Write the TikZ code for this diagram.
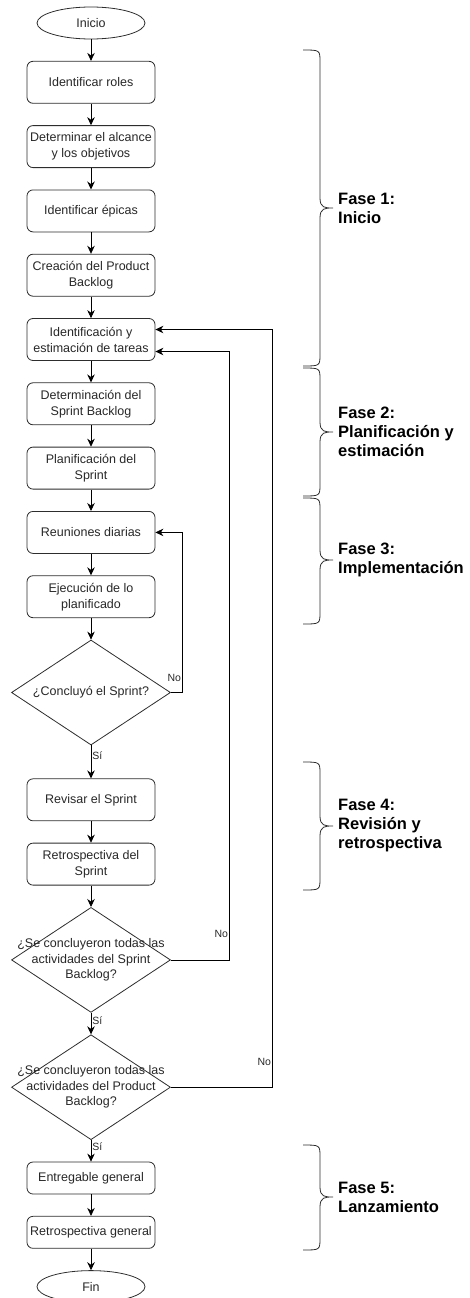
\documentclass[tikz,border=0pt]{standalone}
\usepackage{fontspec}
\setmainfont{Liberation Sans}
\usepackage{tikz}
\usetikzlibrary{shapes.geometric, arrows.meta, positioning, calc}
\definecolor{grisBorde}{RGB}{45,45,45}
\definecolor{grisTexto}{RGB}{40,40,40}
\tikzset{
  fd/term/.style={ellipse, draw=grisBorde, fill=white,
    minimum width=108pt, minimum height=32pt, inner sep=0pt,
    font=\fontsize{12.5}{16}\selectfont\color{grisTexto}, line width=0.8pt},
  fd/proc/.style={rectangle, rounded corners=6pt, draw=grisBorde, fill=white,
    minimum width=128pt, minimum height=42pt, inner sep=1pt,
    font=\fontsize{12.5}{16}\selectfont\color{grisTexto}, align=center,
    line width=0.8pt},
  fd/procb/.style={fd/proc, minimum height=32pt},
  fd/dec/.style={diamond, draw=grisBorde, fill=white,
    minimum width=159pt, minimum height=105pt, inner sep=0pt,
    line width=0.8pt},
  fd/dectxt/.style={align=center, inner sep=0pt,
    font=\fontsize{12.5}{15.5}\selectfont\color{grisTexto}},
  fd/arr/.style={-{Stealth[length=8pt,width=7.5pt]}, line width=0.8pt,
    draw=black},
  fd/lbl/.style={font=\fontsize{10.5}{12}\selectfont\color{grisTexto},
    inner sep=1pt},
  fd/llave/.style={draw=grisBorde, line width=0.8pt},
  fd/fase/.style={anchor=west, align=left, inner sep=0pt,
    font=\fontsize{16.5}{19}\selectfont\bfseries}
}

\begin{document}
\begin{tikzpicture}[x=1pt, y=-1pt, node distance=21.5pt]
  \useasboundingbox (0,0) rectangle (469,1298);

  \node[fd/term] (ini) at (91,23) {Inicio};
  \node[fd/proc, below=of ini] (r1) {Identificar roles};
  \node[fd/proc, below=of r1] (r2) {Determinar el alcance\\y los objetivos};
  \node[fd/proc, below=of r2] (r3) {Identificar épicas};
  \node[fd/proc, below=of r3] (r4) {Creación del Product\\Backlog};
  \node[fd/proc, below=of r4] (r5) {Identificación y\\estimación de tareas};
  \node[fd/proc, below=of r5] (r6) {Determinación del\\Sprint Backlog};
  \node[fd/proc, below=of r6] (r7) {Planificación del\\Sprint};
  \node[fd/proc, below=of r7] (r8) {Reuniones diarias};
  \node[fd/proc, below=of r8] (r9) {Ejecución de lo\\planificado};
  \node[fd/dec, below=of r9,
        label={[fd/dectxt]center:¿Concluyó el Sprint?}] (d1) {};
  \node[fd/proc, below=33pt of d1] (r10) {Revisar el Sprint};
  \node[fd/proc, below=of r10] (r11) {Retrospectiva del\\Sprint};
  \node[fd/dec, below=of r11,
        label={[fd/dectxt]center:{¿Se concluyeron todas las\\actividades del Sprint\\Backlog?}}] (d2) {};
  \node[fd/dec, below=of d2,
        label={[fd/dectxt]center:{¿Se concluyeron todas las\\actividades del Product\\Backlog?}}] (d3) {};
  \node[fd/procb, below=of d3] (r12) {Entregable general};
  \node[fd/procb, below=of r12] (r13) {Retrospectiva general};
  \node[fd/term, below=of r13] (fin) {Fin};

  \draw[fd/arr] (ini) -- (r1);
  \draw[fd/arr] (r1) -- (r2);
  \draw[fd/arr] (r2) -- (r3);
  \draw[fd/arr] (r3) -- (r4);
  \draw[fd/arr] (r4) -- (r5);
  \draw[fd/arr] (r5) -- (r6);
  \draw[fd/arr] (r6) -- (r7);
  \draw[fd/arr] (r7) -- (r8);
  \draw[fd/arr] (r8) -- (r9);
  \draw[fd/arr] (r9) -- (d1);
  \draw[fd/arr] (d1.south) -- node[fd/lbl, right, pos=0.3]{Sí} (r10.north);
  \draw[fd/arr] (d1.east) -| node[fd/lbl, left, pos=0.547]{No}
        ($(r8.east)+(27,0)$) -- (r8.east);
  \draw[fd/arr] (r10) -- (r11);
  \draw[fd/arr] (r11) -- (d2);
  \draw[fd/arr] (d2.south) -- node[fd/lbl, right, pos=0.35]{Sí} (d3.north);
  \draw[fd/arr] (d2.east) -| node[fd/lbl, left, pos=0.521]{No}
        ($(r5.east)+(74,12)$) -- ($(r5.east)+(0,12)$);
  \draw[fd/arr] (d3.south) -- node[fd/lbl, right, pos=0.3]{Sí} (r12.north);
  \draw[fd/arr] (d3.east) -| node[fd/lbl, left, pos=0.517]{No}
        ($(r5.east)+(117,-10)$) -- ($(r5.east)+(0,-10)$);
  \draw[fd/arr] (r12) -- (r13);
  \draw[fd/arr] (r13) -- (fin);

  % fases (llaves)
  \draw[fd/llave] (303,50) .. controls (320,50) .. (320,62) -- (320,198)
        .. controls (320,208) and (325,208) .. (333,208)
        .. controls (325,208) and (320,208) .. (320,218) -- (320,354)
        .. controls (320,366) .. (303,366);
  \node[fd/fase] (f1) at (338,208) {Fase 1:\\Inicio};
  \draw[fd/llave] (303,368) .. controls (320,368) .. (320,380) -- (320,422)
        .. controls (320,432) and (325,432) .. (333,432)
        .. controls (325,432) and (320,432) .. (320,442) -- (320,484)
        .. controls (320,496) .. (303,496);
  \node[fd/fase] (f2) at (338,432) {Fase 2:\\Planificación y\\estimación};
  \draw[fd/llave] (303,498) .. controls (320,498) .. (320,510) -- (320,550)
        .. controls (320,560) and (325,560) .. (333,560)
        .. controls (325,560) and (320,560) .. (320,570) -- (320,612)
        .. controls (320,624) .. (303,624);
  \node[fd/fase] (f3) at (338,560) {Fase 3:\\Implementación};
  \draw[fd/llave] (303,762) .. controls (320,762) .. (320,774) -- (320,816)
        .. controls (320,826) and (325,826) .. (333,826)
        .. controls (325,826) and (320,826) .. (320,836) -- (320,878)
        .. controls (320,890) .. (303,890);
  \node[fd/fase] (f4) at (338,826) {Fase 4:\\Revisión y\\retrospectiva};
  \draw[fd/llave] (303,1145) .. controls (320,1145) .. (320,1157) -- (320,1187)
        .. controls (320,1197) and (325,1197) .. (333,1197)
        .. controls (325,1197) and (320,1197) .. (320,1207) -- (320,1238)
        .. controls (320,1250) .. (303,1250);
  \node[fd/fase] (f5) at (338,1197) {Fase 5:\\Lanzamiento};
\end{tikzpicture}
\end{document}
